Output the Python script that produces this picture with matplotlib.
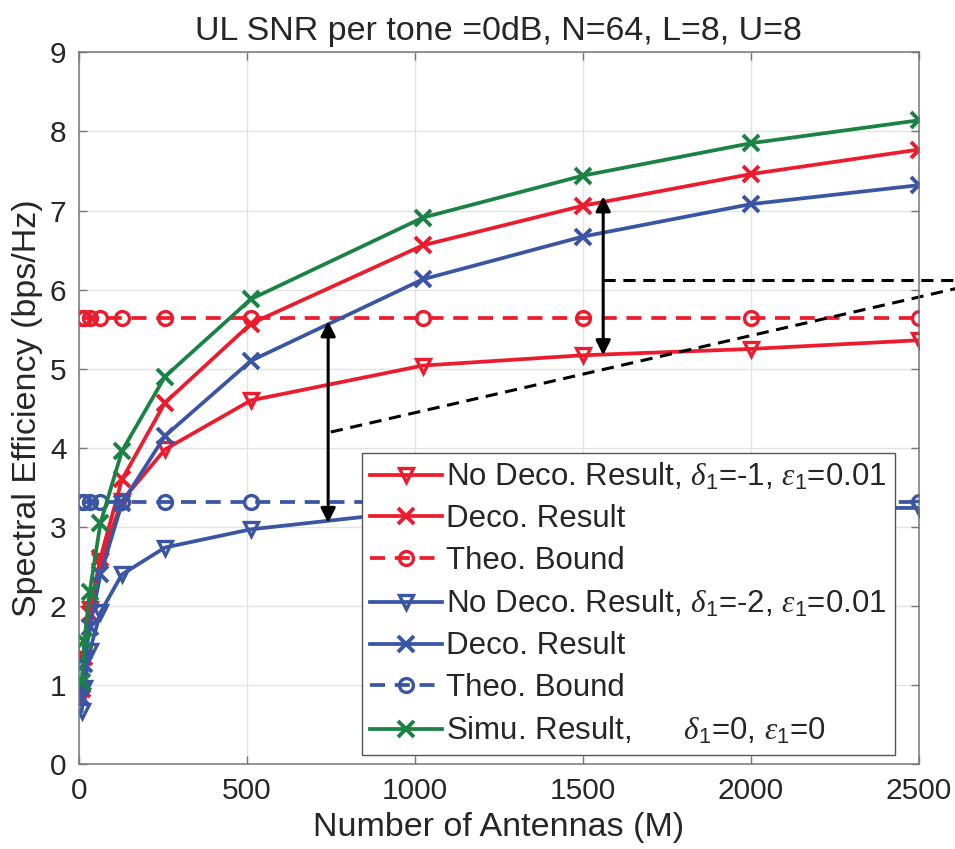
import matplotlib
matplotlib.use("Agg")
import matplotlib.pyplot as plt
import numpy as np

# number of antennas
antennas = [8, 16, 32, 64, 128, 256, 512, 1024, 1500, 2000, 2500]

# delta_1 = -1, eps_1 = 0.01
red_no_deco = [0.86, 1.33, 1.96, 2.57, 3.33, 3.98, 4.60, 5.04, 5.17, 5.25, 5.36]
red_deco = [0.95, 1.35, 1.90, 2.61, 3.60, 4.57, 5.57, 6.56, 7.06, 7.46, 7.77]
red_bound = 5.64

# delta_1 = -2, eps_1 = 0.01
blue_no_deco = [0.67, 0.97, 1.43, 1.92, 2.40, 2.74, 2.97, 3.21, 3.23, 3.24, 3.24]
blue_deco = [0.84, 1.27, 1.73, 2.40, 3.30, 4.15, 5.10, 6.13, 6.67, 7.08, 7.32]
blue_bound = 3.31

# perfect case
green_simu = [1.04, 1.56, 2.18, 3.05, 3.96, 4.90, 5.88, 6.91, 7.44, 7.85, 8.14]

RED = "#ec1c2e"
BLUE = "#3a55a4"
GREEN = "#1a8244"
TXT = "#262626"

plt.rcParams["font.family"] = ["Liberation Sans", "DejaVu Sans"]
plt.rcParams["mathtext.fontset"] = "custom"
plt.rcParams["mathtext.rm"] = "Liberation Sans"
plt.rcParams["mathtext.it"] = "Liberation Serif:italic"

fig = plt.figure(figsize=(9.55, 8.49), dpi=100)
ax = fig.add_axes([0.0827, 0.0998, 0.8791, 0.8386])

m = np.array(antennas)
lw = 2.7
dash = (0, (4, 2.6))

ax.plot(m, red_no_deco, color=RED, lw=lw, marker="v", ms=10.5, mew=2.4,
        mfc="none", label=r"No Deco. Result, $\delta_1$=-1, $\varepsilon_1$=0.01")
ax.plot(m, red_deco, color=RED, lw=lw, marker="x", ms=11, mew=2.8,
        label="Deco. Result")
ax.plot(m, np.full(len(m), red_bound), color=RED, lw=lw, ls=dash,
        marker="o", ms=10, mew=2.4, mfc="none", label="Theo. Bound")
ax.plot(m, blue_no_deco, color=BLUE, lw=lw, marker="v", ms=10.5, mew=2.4,
        mfc="none", label=r"No Deco. Result, $\delta_1$=-2, $\varepsilon_1$=0.01")
ax.plot(m, blue_deco, color=BLUE, lw=lw, marker="x", ms=11, mew=2.8,
        label="Deco. Result")
ax.plot(m, np.full(len(m), blue_bound), color=BLUE, lw=lw, ls=dash,
        marker="o", ms=10, mew=2.4, mfc="none", label="Theo. Bound")
ax.plot(m, green_simu, color=GREEN, lw=lw, marker="x", ms=11, mew=2.8,
        label=r"Simu. Result,      $\delta_1$=0, $\varepsilon_1$=0")

# gap arrows and the dashed pointer lines
arrow = dict(arrowstyle="<|-|>", color="black", lw=2.2, mutation_scale=22,
             shrinkA=0, shrinkB=0)
ax.annotate("", xy=(742, 3.05), xytext=(742, 5.60), arrowprops=arrow)
ax.annotate("", xy=(1561, 5.17), xytext=(1561, 7.18), arrowprops=arrow)
ax.plot([750, 2700], [4.20, 6.10], color="black", lw=2.2, ls=(0, (4, 2.5)),
        clip_on=False)
ax.plot([1561, 2700], [6.12, 6.12], color="black", lw=2.2, ls=(0, (4, 2.5)),
        clip_on=False)

ax.set_xlim(0, 2500)
ax.set_ylim(0, 9)
ax.set_xticks([0, 500, 1000, 1500, 2000, 2500])
ax.set_yticks(range(10))
ax.grid(True, color="#e3e3e3", lw=1)
ax.set_axisbelow(True)
ax.tick_params(direction="in", length=6, width=1, top=True, right=True,
               labelsize=21.5, colors="#777777", labelcolor=TXT, pad=9)
for s in ax.spines.values():
    s.set_color("#777777")
    s.set_linewidth(1.1)

ax.set_xlabel("Number of Antennas (M)", fontsize=24.5, color=TXT, labelpad=5)
ax.set_ylabel("Spectral Efficiency (bps/Hz)", fontsize=24.5, color=TXT,
              labelpad=5)
ax.set_title("UL SNR per tone =0dB, N=64, L=8, U=8", fontsize=24.5,
             color=TXT, pad=9)

leg = ax.legend(loc="upper left", bbox_to_anchor=(0.337, 0.437),
                borderaxespad=0, fontsize=22.5, handlelength=2.3,
                handletextpad=0.15, labelspacing=0.38, borderpad=0.25,
                fancybox=False, framealpha=1, edgecolor="#555555")
leg.get_frame().set_linewidth(1)
for t in leg.get_texts():
    t.set_color(TXT)

fig.savefig("out.png", dpi=100)
